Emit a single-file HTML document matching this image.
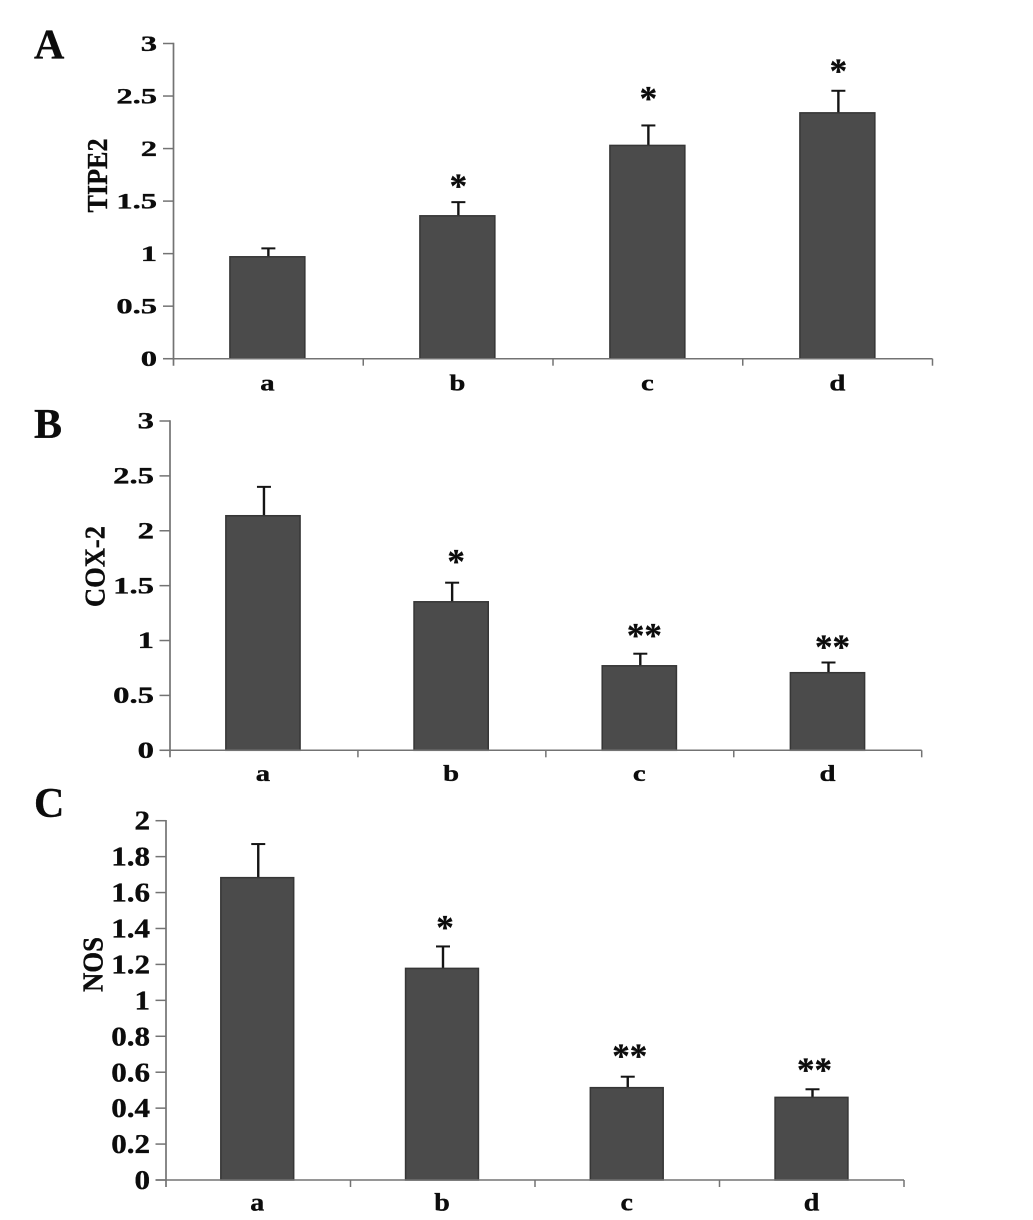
<!DOCTYPE html>
<html lang="en">
<head>
<meta charset="utf-8">
<title>TIPE2, COX-2 and NOS bar charts</title>
<style>
  html, body { margin: 0; padding: 0; background: #fff; }
  body { width: 1033px; height: 1220px; overflow: hidden; }
  svg { display: block; filter: blur(0.35px); }
  text { font-family: "Liberation Serif", serif; font-weight: bold; fill: #0c0c0c; stroke: #0c0c0c; stroke-width: 0.35px; }
</style>
</head>
<body>
<svg id="figure" width="1033" height="1220" viewBox="0 0 1033 1220" xmlns="http://www.w3.org/2000/svg"></svg>
<script>
const categories = ['a', 'b', 'c', 'd'];

const tipe2Values = [0.97, 1.36, 2.03, 2.34];
const tipe2ErrorTops = [1.05, 1.49, 2.22, 2.55];
const tipe2Marks = ['', '*', '*', '*'];
const tipe2MarkLevels = [0, 1.676, 2.51, 2.77];
const tipe2Ticks = ['0', '0.5', '1', '1.5', '2', '2.5', '3'];

const cox2Values = [2.137, 1.353, 0.77, 0.707];
const cox2ErrorTops = [2.40, 1.527, 0.88, 0.80];
const cox2Marks = ['', '*', '**', '**'];
const cox2MarkLevels = [0, 1.754, 1.08, 0.975];
const cox2Ticks = ['0', '0.5', '1', '1.5', '2', '2.5', '3'];

const nosValues = [1.683, 1.178, 0.514, 0.46];
const nosErrorTops = [1.87, 1.30, 0.575, 0.505];
const nosMarks = ['', '*', '**', '**'];
const nosMarkLevels = [0, 1.425, 0.709, 0.631];
const nosTicks = ['0', '0.2', '0.4', '0.6', '0.8', '1', '1.2', '1.4', '1.6', '1.8', '2'];

const panels = [
  { id: 'tipe2', letter: 'A', letterY: 58.5, title: 'TIPE2', titleX: 107, titleY: 175.5, titleLen: 74,
    left: 173.5, right: 932.5, top: 43.5, bottom: 358.7, yMax: 3, markShift: 0,
    values: tipe2Values, errs: tipe2ErrorTops, marks: tipe2Marks, levels: tipe2MarkLevels, ticks: tipe2Ticks,
    tickSize: 22, tickScale: 1.48, tickRight: 157, catSize: 23, catScale: 1.25, catY: 390.5 },
  { id: 'cox2', letter: 'B', letterY: 438, title: 'COX-2', titleX: 104.5, titleY: 566.5, titleLen: 81,
    left: 170, right: 921.7, top: 421, bottom: 750.3, yMax: 3, markShift: 4,
    values: cox2Values, errs: cox2ErrorTops, marks: cox2Marks, levels: cox2MarkLevels, ticks: cox2Ticks,
    tickSize: 23, tickScale: 1.42, tickRight: 154, catSize: 23, catScale: 1.25, catY: 781 },
  { id: 'nos', letter: 'C', letterY: 817, title: 'NOS', titleX: 102.5, titleY: 964.5, titleLen: 55,
    left: 166, right: 904, top: 820.7, bottom: 1180, yMax: 2, markShift: 2,
    values: nosValues, errs: nosErrorTops, marks: nosMarks, levels: nosMarkLevels, ticks: nosTicks,
    tickSize: 27, tickScale: 1.15, tickRight: 150, catSize: 25, catScale: 1.12, catY: 1210.5 }
];

const SVG_NS = 'http://www.w3.org/2000/svg';
const figure = document.getElementById('figure');

function addLine(parent, name, x1, y1, x2, y2, color, width) {
  const el = document.createElementNS(SVG_NS, 'line');
  
  
  el.setAttribute('x1', x1);
  el.setAttribute('y1', y1);
  el.setAttribute('x2', x2);
  el.setAttribute('y2', y2);
  el.setAttribute('stroke', color);
  el.setAttribute('stroke-width', width);
  parent.appendChild(el);
  return el;
}

function addText(parent, name, content, size, transform, anchor) {
  const el = document.createElementNS(SVG_NS, 'text');
  
  
  el.setAttribute('font-size', size);
  el.setAttribute('transform', transform);
  el.setAttribute('text-anchor', anchor);
  el.textContent = content;
  parent.appendChild(el);
  return el;
}

panels.forEach(function (p) {
  const g = document.createElementNS(SVG_NS, 'g');
  
  
  figure.appendChild(g);

  const yScale = function (v) { return p.bottom - (v / p.yMax) * (p.bottom - p.top); };
  const band = (p.right - p.left) / categories.length;
  const xCenter = function (i) { return p.left + band * (i + 0.5) - 1 + 0.25 * i; };
  const barWidth = band * 0.395;
  const axisColor = '#737373';

  addText(g, p.id + '-panel-letter', p.letter, 42, 'translate(34,' + p.letterY + ')', 'start');

  const title = addText(g, p.id + '-y-axis-title', p.title, 28,
    'translate(' + p.titleX + ',' + p.titleY + ') rotate(-90)', 'middle');
  title.setAttribute('textLength', p.titleLen);
  title.setAttribute('lengthAdjust', 'spacingAndGlyphs');

  p.ticks.forEach(function (label) {
    const y = yScale(parseFloat(label));
    addLine(g, p.id + '-y-tick', p.left - 10.5, y, p.left, y, axisColor, 1.5);
    addText(g, p.id + '-y-tick-label', label, p.tickSize,
      'translate(' + p.tickRight + ',' + (y + p.tickSize * 0.335) + ') scale(' + p.tickScale + ',1)', 'end');
  });

  categories.forEach(function (cat, i) {
    const x = xCenter(i);
    const barTop = yScale(p.values[i]);
    const errTop = yScale(p.errs[i]);

    addLine(g, p.id + '-error-bar-' + cat, x + 1, barTop, x + 1, errTop, '#141414', 2.4);
    addLine(g, p.id + '-error-cap-' + cat, x + 1 - 7, errTop, x + 1 + 7, errTop, '#141414', 2);

    const bar = document.createElementNS(SVG_NS, 'rect');
    
    
    bar.setAttribute('x', x - barWidth / 2);
    bar.setAttribute('y', barTop);
    bar.setAttribute('width', barWidth);
    bar.setAttribute('height', p.bottom - barTop);
    bar.setAttribute('fill', '#4b4b4b');
    bar.setAttribute('stroke', '#363636');
    bar.setAttribute('stroke-width', 1.5);
    g.appendChild(bar);

    addText(g, p.id + '-category-label-' + cat, cat, p.catSize,
      'translate(' + x + ',' + p.catY + ') scale(' + p.catScale + ',1)', 'middle');

    if (p.marks[i]) {
      addText(g, p.id + '-significance-' + cat, p.marks[i], 35,
        'translate(' + (x + 1 + p.markShift) + ',' + (yScale(p.levels[i]) + 15) + ')', 'middle');
    }
  });

  addLine(g, p.id + '-y-axis', p.left, p.top - 0.7, p.left, p.bottom + 7, axisColor, 1.7);
  addLine(g, p.id + '-x-axis', p.left - 10.5, p.bottom, p.right, p.bottom, axisColor, 1.5);
  for (let i = 1; i <= categories.length; i++) {
    addLine(g, p.id + '-x-tick', p.left + band * i, p.bottom, p.left + band * i, p.bottom + 7, axisColor, 1.5);
  }
});
</script>
</body>
</html>
